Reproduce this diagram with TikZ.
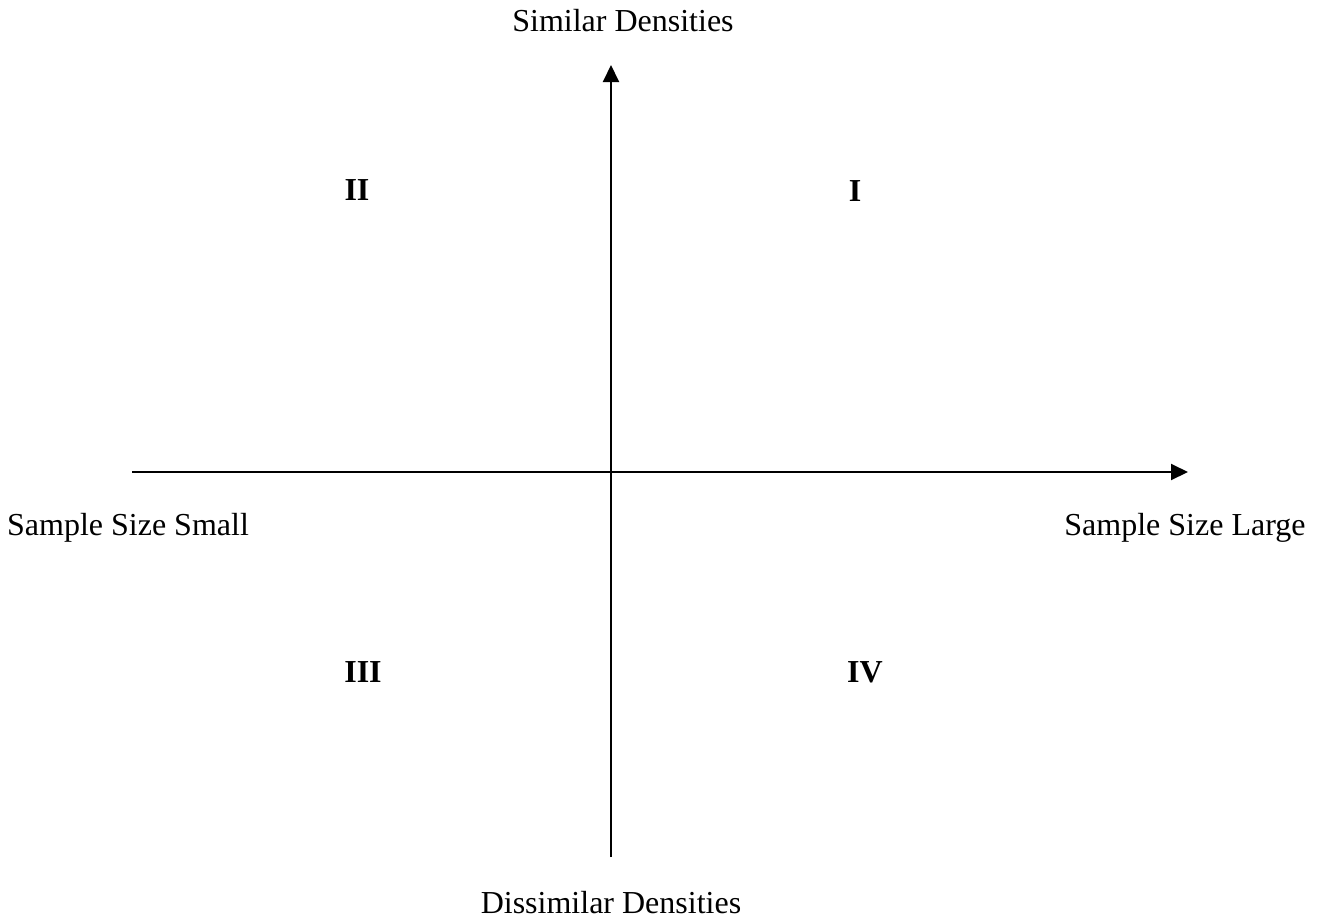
\documentclass[tikz,border=0pt]{standalone}
\usepackage{fontspec}
\setmainfont{Liberation Serif}
\usetikzlibrary{arrows.meta}
\begin{document}
\begin{tikzpicture}[x=0.5pt,y=-0.5pt,
  axis/.style={line width=1pt,-{Triangle[length=8.5pt,width=8pt]}},
  lbl/.style={inner sep=0pt,anchor=base,font=\fontsize{16}{19}\selectfont},
  quad/.style={inner sep=0pt,anchor=base,font=\fontsize{16}{19}\selectfont\bfseries}]
\useasboundingbox[fill=white] (0,0) rectangle (1324,922);
\coordinate (xl) at (132,472);
\coordinate (xr) at (1188,472);
\coordinate (yb) at (611,857);
\coordinate (yt) at (611,65);
\draw[axis] (xl) -- (xr);
\draw[axis] (yb) -- (yt);
\node[lbl] (top) at (623,31) {Similar Densities};
\node[lbl] (bot) at (611,913) {Dissimilar Densities};
\node[lbl] (left) at (128,535) {Sample Size Small};
\node[lbl] (right) at (1185,535) {Sample Size Large};
\node[quad] (q2) at (357,200) {II};
\node[quad] (q1) at (855,201) {I};
\node[quad] (q3) at (363,682) {III};
\node[quad] (q4) at (865,682) {IV};
\end{tikzpicture}
\end{document}
